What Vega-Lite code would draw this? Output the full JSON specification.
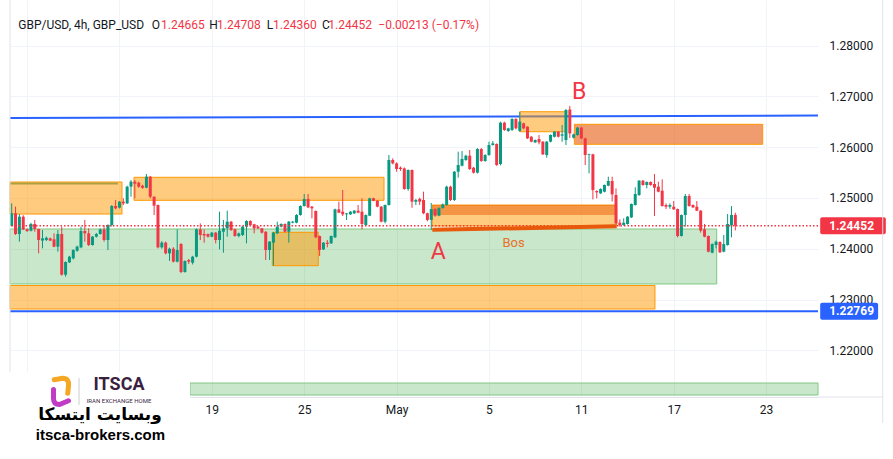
{
  "$schema": "https://vega.github.io/schema/vega-lite/v6.json",
  "width": 808,
  "height": 397,
  "autosize": {"type": "none"},
  "padding": {"left": 10, "top": 0, "right": 75, "bottom": 62},
  "background": "#ffffff",
  "config": {
    "view": {"stroke": null},
    "axis": {"labelFont": "Roboto", "labelColor": "#131722", "labelFontSize": 12, "gridColor": "#F0F3FA", "gridWidth": 1, "ticks": false, "titleFontSize": 0},
    "text": {"font": "Roboto"}
  },
  "datasets": {
    "one": [{}],
    "lines": [
      {"line": "resistance", "i": -0.44, "p": 1.26573},
      {"line": "resistance", "i": 209.48, "p": 1.26622},
      {"line": "support", "i": -0.44, "p": 1.22769},
      {"line": "support", "i": 209.48, "p": 1.22769}
    ],
    "greenZones": [
      {"x1": -0.44, "x2": 183.16, "p1": 1.23306, "p2": 1.24388},
      {"x1": 46.32, "x2": 209.48, "p1": 1.2112, "p2": 1.21356}
    ],
    "orangeZones": [
      {"x1": -0.44, "x2": 28.66, "p1": 1.24683, "p2": 1.25313},
      {"x1": 31.77, "x2": 96.73, "p1": 1.24953, "p2": 1.25406},
      {"x1": -0.44, "x2": 167.13, "p1": 1.22813, "p2": 1.23276},
      {"x1": 67.7, "x2": 79.66, "p1": 1.23666, "p2": 1.24323},
      {"x1": 109.27, "x2": 157.18, "p1": 1.24447, "p2": 1.2486},
      {"x1": 132.06, "x2": 144.01, "p1": 1.26303, "p2": 1.26697}
    ],
    "darkBand": [
      {"x1": 109.27, "x2": 157.18, "p1": 1.24663, "p2": 1.2486}
    ],
    "salmonZones": [
      {"x1": 146.17, "x2": 195.11, "p1": 1.26055, "p2": 1.26449}
    ],
    "bos": [
      {"i": 109.27, "p": 1.24372},
      {"i": 157.18, "p": 1.2444}
    ],
    "candles": [
      {"i":0,"o":1.24447,"h":1.24893,"l":1.2444,"c":1.24696},
      {"i":1,"o":1.24696,"h":1.24828,"l":1.2427,"c":1.24289},
      {"i":2,"o":1.24289,"h":1.2468,"l":1.24139,"c":1.24631},
      {"i":3,"o":1.24631,"h":1.2466,"l":1.24368,"c":1.24381},
      {"i":4,"o":1.24381,"h":1.244,"l":1.2433,"c":1.24348},
      {"i":5,"o":1.24355,"h":1.24512,"l":1.2434,"c":1.24487},
      {"i":6,"o":1.24487,"h":1.24565,"l":1.24335,"c":1.24388},
      {"i":7,"o":1.24388,"h":1.24395,"l":1.23909,"c":1.24171},
      {"i":8,"o":1.2416,"h":1.24368,"l":1.24007,"c":1.24204},
      {"i":9,"o":1.24171,"h":1.2424,"l":1.2415,"c":1.24215},
      {"i":10,"o":1.24204,"h":1.2422,"l":1.2415,"c":1.2416},
      {"i":11,"o":1.24185,"h":1.24303,"l":1.2403,"c":1.2404},
      {"i":12,"o":1.2404,"h":1.24368,"l":1.23942,"c":1.24289},
      {"i":13,"o":1.24289,"h":1.24434,"l":1.2347,"c":1.23489},
      {"i":14,"o":1.23489,"h":1.2375,"l":1.2345,"c":1.23738},
      {"i":15,"o":1.2373,"h":1.2386,"l":1.2372,"c":1.23843},
      {"i":16,"o":1.2381,"h":1.2399,"l":1.2379,"c":1.23974},
      {"i":17,"o":1.2396,"h":1.2406,"l":1.2394,"c":1.2404},
      {"i":18,"o":1.24027,"h":1.24434,"l":1.2401,"c":1.24348},
      {"i":19,"o":1.24348,"h":1.24565,"l":1.24139,"c":1.24303},
      {"i":20,"o":1.24303,"h":1.244,"l":1.24053,"c":1.24073},
      {"i":21,"o":1.24073,"h":1.2425,"l":1.2406,"c":1.24237},
      {"i":22,"o":1.24237,"h":1.2431,"l":1.2422,"c":1.24289},
      {"i":23,"o":1.24289,"h":1.244,"l":1.2428,"c":1.24381},
      {"i":24,"o":1.24381,"h":1.24467,"l":1.24139,"c":1.24171},
      {"i":25,"o":1.24171,"h":1.2448,"l":1.23974,"c":1.24467},
      {"i":26,"o":1.24467,"h":1.2486,"l":1.24434,"c":1.24841},
      {"i":27,"o":1.24841,"h":1.24959,"l":1.24775,"c":1.24795},
      {"i":28,"o":1.24808,"h":1.2494,"l":1.2479,"c":1.24926},
      {"i":29,"o":1.24926,"h":1.24992,"l":1.2486,"c":1.24893},
      {"i":30,"o":1.24893,"h":1.2524,"l":1.2488,"c":1.25221},
      {"i":31,"o":1.25221,"h":1.25352,"l":1.25024,"c":1.2532},
      {"i":32,"o":1.2532,"h":1.25352,"l":1.24992,"c":1.2528},
      {"i":33,"o":1.253,"h":1.2532,"l":1.252,"c":1.25221},
      {"i":34,"o":1.2524,"h":1.2526,"l":1.2518,"c":1.252},
      {"i":35,"o":1.252,"h":1.2547,"l":1.2519,"c":1.25418},
      {"i":36,"o":1.25418,"h":1.2543,"l":1.24992,"c":1.25024},
      {"i":37,"o":1.25024,"h":1.2503,"l":1.24664,"c":1.24848},
      {"i":38,"o":1.2486,"h":1.2487,"l":1.24007,"c":1.24027},
      {"i":39,"o":1.24027,"h":1.2415,"l":1.24,"c":1.2412},
      {"i":40,"o":1.2412,"h":1.2414,"l":1.2389,"c":1.23909},
      {"i":41,"o":1.23909,"h":1.2402,"l":1.2376,"c":1.24},
      {"i":42,"o":1.24,"h":1.2403,"l":1.2373,"c":1.23745},
      {"i":43,"o":1.23745,"h":1.24381,"l":1.2373,"c":1.23974},
      {"i":44,"o":1.24093,"h":1.2411,"l":1.2352,"c":1.23541},
      {"i":45,"o":1.23541,"h":1.2377,"l":1.2353,"c":1.23757},
      {"i":46,"o":1.23777,"h":1.238,"l":1.237,"c":1.23745},
      {"i":47,"o":1.23725,"h":1.2386,"l":1.2369,"c":1.23843},
      {"i":48,"o":1.23843,"h":1.244,"l":1.2383,"c":1.24382},
      {"i":49,"o":1.24382,"h":1.24499,"l":1.24171,"c":1.2427},
      {"i":50,"o":1.2429,"h":1.24382,"l":1.24119,"c":1.2426},
      {"i":51,"o":1.24289,"h":1.243,"l":1.2422,"c":1.24237},
      {"i":52,"o":1.24237,"h":1.2433,"l":1.24225,"c":1.24316},
      {"i":53,"o":1.24316,"h":1.2433,"l":1.24106,"c":1.24171},
      {"i":54,"o":1.24171,"h":1.24729,"l":1.23987,"c":1.24355},
      {"i":55,"o":1.24335,"h":1.24565,"l":1.23922,"c":1.24401},
      {"i":56,"o":1.24401,"h":1.24749,"l":1.24237,"c":1.24532},
      {"i":57,"o":1.24532,"h":1.24545,"l":1.2435,"c":1.24368},
      {"i":58,"o":1.24382,"h":1.24395,"l":1.24237,"c":1.2425},
      {"i":59,"o":1.2425,"h":1.24316,"l":1.24224,"c":1.24303},
      {"i":60,"o":1.2427,"h":1.2445,"l":1.2425,"c":1.24434},
      {"i":61,"o":1.24434,"h":1.2456,"l":1.24106,"c":1.24545},
      {"i":62,"o":1.24545,"h":1.2456,"l":1.2445,"c":1.24467},
      {"i":63,"o":1.2448,"h":1.2449,"l":1.24303,"c":1.24401},
      {"i":64,"o":1.24434,"h":1.24445,"l":1.2439,"c":1.24401},
      {"i":65,"o":1.24401,"h":1.2441,"l":1.243,"c":1.24316},
      {"i":66,"o":1.24335,"h":1.24345,"l":1.23777,"c":1.23974},
      {"i":67,"o":1.23974,"h":1.2415,"l":1.23777,"c":1.24139},
      {"i":68,"o":1.24119,"h":1.2433,"l":1.23666,"c":1.24316},
      {"i":69,"o":1.24303,"h":1.24532,"l":1.2429,"c":1.24434},
      {"i":70,"o":1.24434,"h":1.245,"l":1.2442,"c":1.24486},
      {"i":71,"o":1.24486,"h":1.24499,"l":1.2432,"c":1.24335},
      {"i":72,"o":1.24335,"h":1.24545,"l":1.24119,"c":1.24532},
      {"i":73,"o":1.24513,"h":1.24545,"l":1.245,"c":1.24532},
      {"i":74,"o":1.24513,"h":1.2468,"l":1.245,"c":1.24663},
      {"i":75,"o":1.24663,"h":1.24855,"l":1.2465,"c":1.24841},
      {"i":76,"o":1.24841,"h":1.25077,"l":1.2483,"c":1.24978},
      {"i":77,"o":1.24978,"h":1.25077,"l":1.248,"c":1.24814},
      {"i":78,"o":1.24828,"h":1.2484,"l":1.24598,"c":1.24795},
      {"i":79,"o":1.24742,"h":1.24755,"l":1.2421,"c":1.24224},
      {"i":80,"o":1.2425,"h":1.2426,"l":1.23856,"c":1.23974},
      {"i":81,"o":1.23987,"h":1.2413,"l":1.23975,"c":1.24119},
      {"i":82,"o":1.24119,"h":1.24171,"l":1.24027,"c":1.24093},
      {"i":83,"o":1.24106,"h":1.2426,"l":1.24095,"c":1.2425},
      {"i":84,"o":1.24224,"h":1.2479,"l":1.2421,"c":1.24775},
      {"i":85,"o":1.24775,"h":1.24926,"l":1.247,"c":1.24709},
      {"i":86,"o":1.24729,"h":1.25156,"l":1.24644,"c":1.24677},
      {"i":87,"o":1.24677,"h":1.24705,"l":1.24565,"c":1.24696},
      {"i":88,"o":1.24677,"h":1.2474,"l":1.24665,"c":1.24729},
      {"i":89,"o":1.24696,"h":1.2476,"l":1.24685,"c":1.24749},
      {"i":90,"o":1.24749,"h":1.2486,"l":1.247,"c":1.24709},
      {"i":91,"o":1.24729,"h":1.24992,"l":1.24382,"c":1.24486},
      {"i":92,"o":1.24467,"h":1.24675,"l":1.24455,"c":1.24663},
      {"i":93,"o":1.2465,"h":1.25005,"l":1.2464,"c":1.24992},
      {"i":94,"o":1.24992,"h":1.25005,"l":1.24935,"c":1.24946},
      {"i":95,"o":1.24946,"h":1.24955,"l":1.24815,"c":1.24828},
      {"i":96,"o":1.24828,"h":1.2484,"l":1.2452,"c":1.24532},
      {"i":97,"o":1.24532,"h":1.2487,"l":1.24499,"c":1.2486},
      {"i":98,"o":1.2486,"h":1.25844,"l":1.2485,"c":1.25746},
      {"i":99,"o":1.25746,"h":1.2578,"l":1.2566,"c":1.2568},
      {"i":100,"o":1.2568,"h":1.257,"l":1.25516,"c":1.25569},
      {"i":101,"o":1.25595,"h":1.2562,"l":1.2553,"c":1.25569},
      {"i":102,"o":1.25582,"h":1.256,"l":1.2516,"c":1.25175},
      {"i":103,"o":1.25175,"h":1.2556,"l":1.2514,"c":1.25549},
      {"i":104,"o":1.25549,"h":1.2556,"l":1.24807,"c":1.24926},
      {"i":105,"o":1.24926,"h":1.2498,"l":1.2486,"c":1.24959},
      {"i":106,"o":1.2498,"h":1.25005,"l":1.2486,"c":1.24926},
      {"i":107,"o":1.24959,"h":1.25123,"l":1.2468,"c":1.24698},
      {"i":108,"o":1.24698,"h":1.2471,"l":1.2454,"c":1.24567},
      {"i":109,"o":1.24567,"h":1.249,"l":1.24368,"c":1.2478},
      {"i":110,"o":1.2478,"h":1.248,"l":1.2463,"c":1.2465},
      {"i":111,"o":1.2465,"h":1.24815,"l":1.2464,"c":1.248},
      {"i":112,"o":1.248,"h":1.2489,"l":1.2479,"c":1.24873},
      {"i":113,"o":1.2486,"h":1.2524,"l":1.2485,"c":1.25221},
      {"i":114,"o":1.25221,"h":1.2524,"l":1.2494,"c":1.24959},
      {"i":115,"o":1.24959,"h":1.2553,"l":1.2494,"c":1.25516},
      {"i":116,"o":1.25516,"h":1.2591,"l":1.25398,"c":1.25648},
      {"i":117,"o":1.25634,"h":1.25923,"l":1.2562,"c":1.25766},
      {"i":118,"o":1.25746,"h":1.2585,"l":1.2573,"c":1.25831},
      {"i":119,"o":1.25831,"h":1.25943,"l":1.2555,"c":1.25569},
      {"i":120,"o":1.25595,"h":1.2561,"l":1.2548,"c":1.25497},
      {"i":121,"o":1.25497,"h":1.2598,"l":1.2548,"c":1.25963},
      {"i":122,"o":1.25963,"h":1.2598,"l":1.2571,"c":1.25726},
      {"i":123,"o":1.25726,"h":1.2586,"l":1.25713,"c":1.25844},
      {"i":124,"o":1.25844,"h":1.26107,"l":1.2583,"c":1.26041},
      {"i":125,"o":1.26041,"h":1.2612,"l":1.2603,"c":1.26074},
      {"i":126,"o":1.26061,"h":1.26074,"l":1.2563,"c":1.25648},
      {"i":127,"o":1.25667,"h":1.265,"l":1.2564,"c":1.26481},
      {"i":128,"o":1.26481,"h":1.265,"l":1.2632,"c":1.26337},
      {"i":129,"o":1.26317,"h":1.2638,"l":1.263,"c":1.26369},
      {"i":130,"o":1.26337,"h":1.2657,"l":1.2632,"c":1.26553},
      {"i":131,"o":1.26553,"h":1.2657,"l":1.2635,"c":1.26369},
      {"i":132,"o":1.2632,"h":1.26697,"l":1.263,"c":1.26501},
      {"i":133,"o":1.26468,"h":1.2648,"l":1.2635,"c":1.26369},
      {"i":134,"o":1.26402,"h":1.2641,"l":1.2616,"c":1.26172},
      {"i":135,"o":1.26205,"h":1.26215,"l":1.26095,"c":1.26107},
      {"i":136,"o":1.26094,"h":1.2615,"l":1.2608,"c":1.2614},
      {"i":137,"o":1.26159,"h":1.26238,"l":1.26054,"c":1.26094},
      {"i":138,"o":1.26107,"h":1.2612,"l":1.25845,"c":1.25858},
      {"i":139,"o":1.25844,"h":1.2612,"l":1.25792,"c":1.26107},
      {"i":140,"o":1.26107,"h":1.26251,"l":1.26095,"c":1.26238},
      {"i":141,"o":1.26205,"h":1.26315,"l":1.2619,"c":1.26304},
      {"i":142,"o":1.26304,"h":1.26315,"l":1.2619,"c":1.26205},
      {"i":143,"o":1.26225,"h":1.26435,"l":1.26107,"c":1.26251},
      {"i":144,"o":1.26139,"h":1.2675,"l":1.26041,"c":1.2673},
      {"i":145,"o":1.2674,"h":1.2681,"l":1.2618,"c":1.2627},
      {"i":146,"o":1.26186,"h":1.26265,"l":1.2617,"c":1.26251},
      {"i":147,"o":1.26238,"h":1.26395,"l":1.26225,"c":1.26383},
      {"i":148,"o":1.26383,"h":1.26395,"l":1.2616,"c":1.26172},
      {"i":149,"o":1.26172,"h":1.26185,"l":1.25648,"c":1.25844},
      {"i":150,"o":1.25844,"h":1.2587,"l":1.25484,"c":1.25858},
      {"i":151,"o":1.25858,"h":1.2587,"l":1.2497,"c":1.25155},
      {"i":152,"o":1.25136,"h":1.2515,"l":1.24991,"c":1.2511},
      {"i":153,"o":1.2509,"h":1.2519,"l":1.2508,"c":1.25175},
      {"i":154,"o":1.25123,"h":1.25265,"l":1.2511,"c":1.25254},
      {"i":155,"o":1.25241,"h":1.25418,"l":1.2523,"c":1.25333},
      {"i":156,"o":1.25333,"h":1.25418,"l":1.2493,"c":1.2507},
      {"i":157,"o":1.25057,"h":1.25188,"l":1.2448,"c":1.24499},
      {"i":158,"o":1.24512,"h":1.24578,"l":1.24434,"c":1.24467},
      {"i":159,"o":1.24467,"h":1.24598,"l":1.24455,"c":1.24512},
      {"i":160,"o":1.24486,"h":1.2464,"l":1.24475,"c":1.24631},
      {"i":161,"o":1.24617,"h":1.2489,"l":1.24605,"c":1.2488},
      {"i":162,"o":1.2486,"h":1.25208,"l":1.2485,"c":1.25077},
      {"i":163,"o":1.25057,"h":1.2535,"l":1.2504,"c":1.25339},
      {"i":164,"o":1.25339,"h":1.25352,"l":1.2524,"c":1.25254},
      {"i":165,"o":1.25254,"h":1.25325,"l":1.25188,"c":1.25313},
      {"i":166,"o":1.25313,"h":1.25325,"l":1.2524,"c":1.25254},
      {"i":167,"o":1.25274,"h":1.2547,"l":1.24644,"c":1.25201},
      {"i":168,"o":1.25221,"h":1.2532,"l":1.2511,"c":1.25123},
      {"i":169,"o":1.25142,"h":1.25365,"l":1.2483,"c":1.2484},
      {"i":170,"o":1.2486,"h":1.24893,"l":1.24781,"c":1.24827},
      {"i":171,"o":1.24827,"h":1.24893,"l":1.24785,"c":1.2486},
      {"i":172,"o":1.24827,"h":1.24939,"l":1.24765,"c":1.24775},
      {"i":173,"o":1.24781,"h":1.2479,"l":1.24224,"c":1.2425},
      {"i":174,"o":1.2425,"h":1.24675,"l":1.2424,"c":1.24663},
      {"i":175,"o":1.24663,"h":1.25077,"l":1.24434,"c":1.25037},
      {"i":176,"o":1.25037,"h":1.25077,"l":1.2483,"c":1.2484},
      {"i":177,"o":1.2486,"h":1.2487,"l":1.248,"c":1.24814},
      {"i":178,"o":1.24827,"h":1.24939,"l":1.2474,"c":1.24749},
      {"i":179,"o":1.24749,"h":1.2476,"l":1.24316,"c":1.24355},
      {"i":180,"o":1.24381,"h":1.24486,"l":1.24225,"c":1.24237},
      {"i":181,"o":1.2425,"h":1.2426,"l":1.2393,"c":1.23942},
      {"i":182,"o":1.23922,"h":1.24105,"l":1.2391,"c":1.24092},
      {"i":183,"o":1.24073,"h":1.24158,"l":1.24007,"c":1.24138},
      {"i":184,"o":1.24132,"h":1.24145,"l":1.23915,"c":1.23929},
      {"i":185,"o":1.23942,"h":1.2427,"l":1.2393,"c":1.24092},
      {"i":186,"o":1.24073,"h":1.24683,"l":1.2406,"c":1.24486},
      {"i":187,"o":1.24467,"h":1.2484,"l":1.24224,"c":1.24663},
      {"i":188,"o":1.24665,"h":1.24708,"l":1.2436,"c":1.24452}
    ]
  },
  "layer": [
    {
      "data": {"name": "lines"},
      "mark": {"type": "line", "color": "#2962FF", "strokeWidth": 2},
      "encoding": {
        "x": {
          "field": "i", "type": "quantitative",
          "scale": {"domain": [-0.44, 209.48], "nice": false, "zero": false, "padding": 0},
          "axis": {
            "values": [4, 28, 52, 76, 100, 124, 148, 172, 196],
            "labelExpr": "datum.value == 52 ? '19' : datum.value == 76 ? '25' : datum.value == 100 ? 'May' : datum.value == 124 ? '5' : datum.value == 148 ? '11' : datum.value == 172 ? '17' : datum.value == 196 ? '23' : ''",
            "grid": true, "ticks": false, "domain": true, "domainColor": "#E0E3EB", "domainWidth": 1,
            "labelPadding": 7, "labelFlush": false, "labelOverlap": false, "title": null
          }
        },
        "y": {
          "field": "p", "type": "quantitative",
          "scale": {"domain": [1.21081, 1.28896], "nice": false, "zero": false, "padding": 0},
          "axis": {
            "orient": "right",
            "values": [1.22, 1.23, 1.24, 1.25, 1.26, 1.27, 1.28],
            "format": ".5f",
            "grid": true, "domain": false, "ticks": false,
            "labelPadding": 11, "labelOverlap": false, "title": null
          }
        },
        "detail": {"field": "line", "type": "nominal"}
      }
    },
    {
      "data": {"name": "greenZones"},
      "mark": {"type": "rect", "fill": "#4CAF50", "fillOpacity": 0.3, "stroke": "#81C784", "strokeWidth": 1},
      "encoding": {
        "x": {"field": "x1", "type": "quantitative", "title": null},
        "x2": {"field": "x2"},
        "y": {"field": "p1", "type": "quantitative", "title": null},
        "y2": {"field": "p2"}
      }
    },
    {
      "data": {"name": "orangeZones"},
      "mark": {"type": "rect", "fill": "#FF9800", "fillOpacity": 0.5, "stroke": "#FF9800", "strokeWidth": 1},
      "encoding": {
        "x": {"field": "x1", "type": "quantitative", "title": null},
        "x2": {"field": "x2"},
        "y": {"field": "p1", "type": "quantitative", "title": null},
        "y2": {"field": "p2"}
      }
    },
    {
      "data": {"name": "darkBand"},
      "mark": {"type": "rect", "fill": "#E65100", "fillOpacity": 0.45},
      "encoding": {
        "x": {"field": "x1", "type": "quantitative", "title": null},
        "x2": {"field": "x2"},
        "y": {"field": "p1", "type": "quantitative", "title": null},
        "y2": {"field": "p2"}
      }
    },
    {
      "data": {"name": "salmonZones"},
      "mark": {"type": "rect", "fill": "#E65100", "fillOpacity": 0.57, "stroke": "#FF9800", "strokeWidth": 1},
      "encoding": {
        "x": {"field": "x1", "type": "quantitative", "title": null},
        "x2": {"field": "x2"},
        "y": {"field": "p1", "type": "quantitative", "title": null},
        "y2": {"field": "p2"}
      }
    },
    {
      "data": {"name": "one"},
      "mark": {"type": "rule", "color": "#ADA03E", "strokeWidth": 2},
      "encoding": {"x": {"datum": -0.44}, "x2": {"datum": 27.62}, "y": {"datum": 1.25283}}
    },
    {
      "data": {"name": "candles"},
      "mark": {"type": "rule", "strokeWidth": 1},
      "encoding": {
        "x": {"field": "i", "type": "quantitative", "title": null},
        "y": {"field": "l", "type": "quantitative", "title": null},
        "y2": {"field": "h"},
        "color": {"condition": {"test": "datum.c >= datum.o", "value": "#089981"}, "value": "#F23645"}
      }
    },
    {
      "data": {"name": "candles"},
      "mark": {"type": "bar", "size": 3},
      "encoding": {
        "x": {"field": "i", "type": "quantitative", "title": null},
        "y": {"field": "o", "type": "quantitative", "title": null},
        "y2": {"field": "c"},
        "color": {"condition": {"test": "datum.c >= datum.o", "value": "#089981"}, "value": "#F23645"}
      }
    },
    {
      "data": {"name": "one"},
      "mark": {"type": "rule", "color": "#F23645", "strokeWidth": 1.3, "strokeDash": [1.5, 2]},
      "encoding": {"y": {"datum": 1.24452}}
    },
    {
      "data": {"name": "bos"},
      "mark": {"type": "line", "color": "#E8590C", "strokeWidth": 4},
      "encoding": {
        "x": {"field": "i", "type": "quantitative", "title": null},
        "y": {"field": "p", "type": "quantitative", "title": null}
      }
    },
    {
      "data": {"name": "one"},
      "mark": {"type": "text", "text": "A", "fontSize": 23, "color": "#F23645", "align": "center", "baseline": "middle"},
      "encoding": {"x": {"datum": 110.8}, "y": {"datum": 1.23935}}
    },
    {
      "data": {"name": "one"},
      "mark": {"type": "text", "text": "B", "fontSize": 23, "color": "#F23645", "align": "center", "baseline": "middle"},
      "encoding": {"x": {"datum": 147.4}, "y": {"datum": 1.27085}}
    },
    {
      "data": {"name": "one"},
      "mark": {"type": "text", "text": "Bos", "fontSize": 13, "color": "#E8702A", "align": "center", "baseline": "middle"},
      "encoding": {"x": {"datum": 130.4}, "y": {"datum": 1.24122}}
    },
    {
      "data": {"name": "one"},
      "mark": {"type": "rect", "fill": "#F23645", "cornerRadius": 2},
      "encoding": {"x": {"datum": 210.05}, "x2": {"datum": 227.1}, "y": {"datum": 1.24619}, "y2": {"datum": 1.24285}}
    },
    {
      "data": {"name": "one"},
      "mark": {"type": "text", "text": "1.24452", "fontSize": 12, "fontWeight": "bold", "color": "#ffffff", "align": "left", "baseline": "middle"},
      "encoding": {"x": {"datum": 212.4}, "y": {"datum": 1.24452}}
    },
    {
      "data": {"name": "one"},
      "mark": {"type": "rect", "fill": "#2962FF", "cornerRadius": 2},
      "encoding": {"x": {"datum": 210.05}, "x2": {"datum": 225.1}, "y": {"datum": 1.22937}, "y2": {"datum": 1.22602}}
    },
    {
      "data": {"name": "one"},
      "mark": {"type": "text", "text": "1.22769", "fontSize": 12, "fontWeight": "bold", "color": "#ffffff", "align": "left", "baseline": "middle"},
      "encoding": {"x": {"datum": 212.4}, "y": {"datum": 1.22769}}
    },
    {
      "data": {"name": "one"},
      "mark": {"type": "rule", "color": "#E0E3EB", "strokeWidth": 1},
      "encoding": {"x": {"datum": -0.44}}
    },
    {
      "data": {"name": "one"},
      "mark": {"type": "rule", "color": "#E0E3EB", "strokeWidth": 1},
      "encoding": {"x": {"datum": 226.3}, "y": {"datum": 1.28896}, "y2": {"datum": 1.20569}}
    },
    {
      "data": {"name": "one"},
      "mark": {"type": "rule", "color": "#E0E3EB", "strokeWidth": 1},
      "encoding": {"x": {"datum": 209.48}, "x2": {"datum": 226.3}, "y": {"datum": 1.21081}}
    },
    {
      "data": {"name": "one"},
      "mark": {"type": "text", "text": "GBP/USD, 4h, GBP_USD", "fontSize": 12, "color": "#131722", "align": "left", "baseline": "middle"},
      "encoding": {"x": {"datum": 1.71}, "y": {"datum": 1.2841}}
    },
    {
      "data": {"name": "one"},
      "mark": {"type": "text", "text": "O", "fontSize": 12, "color": "#131722", "align": "left", "baseline": "middle"},
      "encoding": {"x": {"datum": 36.37}, "y": {"datum": 1.2841}}
    },
    {
      "data": {"name": "one"},
      "mark": {"type": "text", "text": "1.24665", "fontSize": 12, "color": "#F23645", "align": "left", "baseline": "middle"},
      "encoding": {"x": {"datum": 38.79}, "y": {"datum": 1.2841}}
    },
    {
      "data": {"name": "one"},
      "mark": {"type": "text", "text": "H", "fontSize": 12, "color": "#131722", "align": "left", "baseline": "middle"},
      "encoding": {"x": {"datum": 51.34}, "y": {"datum": 1.2841}}
    },
    {
      "data": {"name": "one"},
      "mark": {"type": "text", "text": "1.24708", "fontSize": 12, "color": "#F23645", "align": "left", "baseline": "middle"},
      "encoding": {"x": {"datum": 53.34}, "y": {"datum": 1.2841}}
    },
    {
      "data": {"name": "one"},
      "mark": {"type": "text", "text": "L", "fontSize": 12, "color": "#131722", "align": "left", "baseline": "middle"},
      "encoding": {"x": {"datum": 66.25}, "y": {"datum": 1.2841}}
    },
    {
      "data": {"name": "one"},
      "mark": {"type": "text", "text": "1.24360", "fontSize": 12, "color": "#F23645", "align": "left", "baseline": "middle"},
      "encoding": {"x": {"datum": 67.89}, "y": {"datum": 1.2841}}
    },
    {
      "data": {"name": "one"},
      "mark": {"type": "text", "text": "C", "fontSize": 12, "color": "#131722", "align": "left", "baseline": "middle"},
      "encoding": {"x": {"datum": 80.62}, "y": {"datum": 1.2841}}
    },
    {
      "data": {"name": "one"},
      "mark": {"type": "text", "text": "1.24452", "fontSize": 12, "color": "#F23645", "align": "left", "baseline": "middle"},
      "encoding": {"x": {"datum": 82.26}, "y": {"datum": 1.2841}}
    },
    {
      "data": {"name": "one"},
      "mark": {"type": "text", "text": "−0.00213 (−0.17%)", "fontSize": 12, "color": "#F23645", "align": "left", "baseline": "middle"},
      "encoding": {"x": {"datum": 95.24}, "y": {"datum": 1.2841}}
    },
    {
      "data": {"name": "one"},
      "mark": {"type": "rect", "fill": "#ffffff"},
      "encoding": {"x": {"datum": -3.04}, "x2": {"datum": 46.32}, "y": {"datum": 1.21573}, "y2": {"datum": 1.1986}}
    },
    {
      "data": {"name": "one"},
      "mark": {"type": "point", "shape": "M -0.45 -0.75 L 0.1 -0.85 Q 0.55 -0.85 0.5 -0.35 L 0.45 0.15", "filled": false, "stroke": "#F5A623", "strokeWidth": 5, "strokeCap": "round", "size": 900, "opacity": 1},
      "encoding": {"x": {"datum": 12.81}, "y": {"datum": 1.21199}}
    },
    {
      "data": {"name": "one"},
      "mark": {"type": "point", "shape": "M -0.5 -0.1 L -0.5 0.5 Q -0.5 0.9 -0.1 0.9 L 0.5 0.65", "filled": false, "stroke": "#C13CC4", "strokeWidth": 5, "strokeCap": "round", "size": 900, "opacity": 1},
      "encoding": {"x": {"datum": 12.81}, "y": {"datum": 1.21199}}
    },
    {
      "data": {"name": "one"},
      "mark": {"type": "rule", "color": "#cccccc", "strokeWidth": 1},
      "encoding": {"x": {"datum": 17.49}, "y": {"datum": 1.21455}, "y2": {"datum": 1.20923}}
    },
    {
      "data": {"name": "one"},
      "mark": {"type": "text", "text": "ITSCA", "fontSize": 18, "fontWeight": "bold", "color": "#3B1F3F", "align": "center", "baseline": "middle", "font": "Roboto"},
      "encoding": {"x": {"datum": 27.88}, "y": {"datum": 1.21319}}
    },
    {
      "data": {"name": "one"},
      "mark": {"type": "text", "text": "IRAN EXCHANGE HOME", "fontSize": 6, "color": "#3B1F3F", "align": "center", "baseline": "middle", "font": "Roboto"},
      "encoding": {"x": {"datum": 27.88}, "y": {"datum": 1.21004}}
    },
    {
      "data": {"name": "one"},
      "mark": {"type": "text", "text": "وبسایت ایتسکا", "fontSize": 17, "fontWeight": "bold", "color": "#000000", "align": "center", "baseline": "middle", "font": "DejaVu Sans"},
      "encoding": {"x": {"datum": 22.94}, "y": {"datum": 1.20736}}
    },
    {
      "data": {"name": "one"},
      "mark": {"type": "text", "text": "itsca-brokers.com", "fontSize": 15, "fontWeight": "bold", "color": "#000000", "align": "center", "baseline": "middle", "font": "Liberation Sans"},
      "encoding": {"x": {"datum": 23.06}, "y": {"datum": 1.20333}}
    }
  ]
}
